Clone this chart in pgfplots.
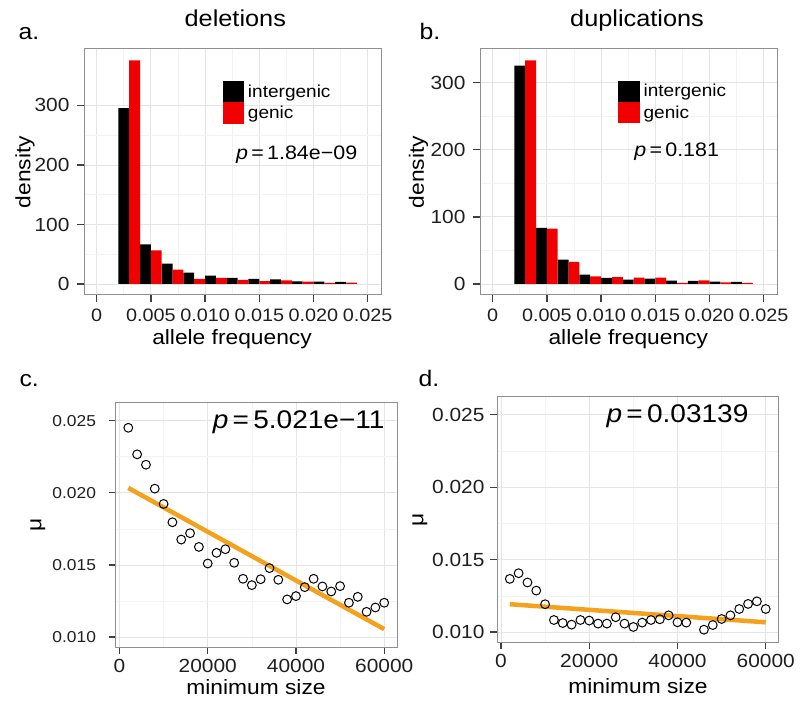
\documentclass[border=0pt]{standalone}
\usepackage{pgfplots}
\pgfplotsset{compat=1.18}
\usepackage{fontspec}
\setmainfont{Liberation Sans}[FakeStretch=1.1]
\definecolor{gridmaj}{HTML}{E4E4E4}
\definecolor{gridmin}{HTML}{F2F2F2}
\definecolor{frame}{HTML}{8F8F8F}
\definecolor{barred}{HTML}{F00000}
\definecolor{fitorange}{HTML}{F4A11E}
\newcommand{\fs}[1]{\fontsize{#1}{#1}\selectfont}
\pgfplotsset{
  gg/.style={
    scale only axis,
    anchor=south west,
    axis line style={frame, line width=1pt},
    tick align=outside,
    tick pos=left,
    major tick style={color=black!75, line width=1.3pt},
    major tick length=7pt,
    minor tick length=0pt,
    minor tick num=1,
    grid=both,
    major grid style={gridmaj, line width=0.8pt},
    minor grid style={gridmin, line width=0.6pt},
    ticklabel style={font=\fs{19}, text=black!88},
    /pgf/number format/assume math mode=true,
    scaled ticks=false,
  },
  hist/.style={
    gg,
    width=297pt, height=246pt,
    xmin=-0.00117, xmax=0.02623,
    xtick={0,0.005,0.01,0.015,0.02,0.025},
    xticklabels={0,0.005,0.010,0.015,0.020,0.025},
    ytick={0,100,200,300},
    xticklabel style={font=\fs{18}, yshift=-3.5pt},
    yticklabel style={xshift=-4pt},
    legend cell align=left,
    legend style={anchor=north west, draw=none, fill=none, inner sep=0pt, outer sep=0pt,
      row sep=0pt, nodes={inner sep=0pt, font=\fs{17.3}},
      /tikz/every odd column/.append style={column sep=4pt}},
  },
  scat/.style={
    gg,
    width=281.5pt,
    xmin=-900, xmax=62900,
    ymin=0.00929, ymax=0.02625,
    xtick={0,20000,40000,60000},
    xticklabels={0,20000,40000,60000},
    ytick={0.010,0.015,0.020,0.025},
    yticklabels={0.010,0.015,0.020,0.025},
    xticklabel style={yshift=-1.5pt},
  },
  blackbar/.style={ybar, bar width=0.001, bar shift=0pt, fill=black, draw=none,
    legend image code/.code={\fill[black] (0pt,-10.65pt) rectangle (21.3pt,10.65pt);}},
  redbar/.style={ybar, bar width=0.001, bar shift=0pt, fill=barred, draw=none,
    legend image code/.code={\fill[barred] (0pt,-10.65pt) rectangle (21.3pt,10.65pt);}},
  pts/.style={only marks, mark=o, mark size=4.4pt, mark options={line width=1pt, draw=black}},
  fit/.style={fitorange, line width=4.5pt, no marks},
}
\begin{document}
\begin{tikzpicture}
\useasboundingbox (0pt,0pt) rectangle (800pt,712pt);

% ---------- panel a ----------
\begin{axis}[hist, at={(84pt,417pt)}, ymin=-18.5, ymax=394.8,
  legend style={at={(0.467,0.870)}}]
\addplot[blackbar] coordinates {
 (0.0025,295.6) (0.0045,66.7) (0.0065,34.2) (0.0085,19.1) (0.0105,14.0) (0.0125,10.1)
 (0.0145,8.4) (0.0165,7.9) (0.0185,4.5) (0.0205,3.9) (0.0225,3.4)};
\addlegendentry{intergenic}
\addplot[redbar] coordinates {
 (0.0035,375.8) (0.0055,56.6) (0.0075,24.1) (0.0095,8.4) (0.0115,10.1) (0.0135,6.7)
 (0.0155,5.0) (0.0175,6.2) (0.0195,3.9) (0.0215,1.7) (0.0235,2.2)};
\addlegendentry{genic}
\end{axis}

% ---------- panel b ----------
\begin{axis}[hist, at={(480pt,417pt)}, ymin=-16.4, ymax=350.2,
  legend style={at={(0.4657,0.871)}}]
\addplot[blackbar] coordinates {
 (0.0025,325.4) (0.0045,83.6) (0.0065,36.3) (0.0085,13.9) (0.0105,9.0) (0.0125,6.5)
 (0.0145,8.0) (0.0165,5.0) (0.0185,4.5) (0.0205,3.5) (0.0225,3.0)};
\addlegendentry{intergenic}
\addplot[redbar] coordinates {
 (0.0035,333.3) (0.0055,82.6) (0.0075,32.8) (0.0095,11.4) (0.0115,10.4) (0.0135,9.5)
 (0.0155,9.5) (0.0175,1.5) (0.0195,5.5) (0.0215,2.5) (0.0235,1.5)};
\addlegendentry{genic}
\end{axis}

% ---------- panel c ----------
\begin{axis}[scat, at={(115.5pt,64.7pt)}, height=244.6pt,
  yticklabel style={font=\fs{15.8}, xshift=-9pt}]
\addplot[pts] coordinates {
 (2000,0.02451) (4000,0.02267) (6000,0.02195) (8000,0.02029) (10000,0.01923)
 (12000,0.01796) (14000,0.01676) (16000,0.01720) (18000,0.01625) (20000,0.01510)
 (22000,0.01584) (24000,0.01609) (26000,0.01515) (28000,0.01404) (30000,0.01360)
 (32000,0.01401) (34000,0.01478) (36000,0.01397) (38000,0.01261) (40000,0.01284)
 (42000,0.01346) (44000,0.01404) (46000,0.01351) (48000,0.01316) (50000,0.01353)
 (52000,0.01238) (54000,0.01279) (56000,0.01175) (58000,0.01205) (60000,0.01238)};
\addplot[fit] coordinates {(2000,0.02034) (60000,0.01055)};
\end{axis}

% ---------- panel d ----------
\begin{axis}[scat, at={(497pt,69.7pt)}, height=245.6pt,
  yticklabel style={xshift=-2pt}]
\addplot[pts] coordinates {
 (2000,0.01367) (4000,0.01406) (6000,0.01342) (8000,0.01286) (10000,0.01192)
 (12000,0.01083) (14000,0.01062) (16000,0.01051) (18000,0.01083) (20000,0.01079)
 (22000,0.01058) (24000,0.01058) (26000,0.01102) (28000,0.01058) (30000,0.01035)
 (32000,0.01065) (34000,0.01083) (36000,0.01088) (38000,0.01115) (40000,0.01067)
 (42000,0.01065) (46000,0.01016) (48000,0.01048) (50000,0.01090) (52000,0.01115)
 (54000,0.01159) (56000,0.01194) (58000,0.01212) (60000,0.01159)};
\addplot[fit] coordinates {(2000,0.01192) (60000,0.01067)};
\end{axis}

% ---------- texts ----------
\node[anchor=base, font=\fs{23}] at (235.3pt,685.3pt) {deletions};
\node[anchor=base, font=\fs{23}] at (637pt,685.3pt) {duplications};
\node[anchor=base west, font=\fs{22.5}] at (15pt,672pt) {a.};
\node[anchor=base west, font=\fs{22.5}] at (416pt,672pt) {b.};
\node[anchor=base west, font=\fs{22.5}] at (16pt,325.3pt) {c.};
\node[anchor=base west, font=\fs{22.5}] at (415pt,325.3pt) {d.};

\node[anchor=base, font=\fs{20.7}] at (232pt,367pt) {allele frequency};
\node[anchor=base, font=\fs{20.7}] at (628.3pt,367pt) {allele frequency};
\node[anchor=base, font=\fs{20.7}] at (256pt,17.5pt) {minimum size};
\node[anchor=base, font=\fs{20.7}] at (638pt,18.5pt) {minimum size};

\node[rotate=90, font=\fs{20.7}] at (25pt,540pt) {density};
\node[rotate=90, font=\fs{20.7}] at (418.5pt,540pt) {density};
\node[rotate=90, font=\fs{20.7}] at (38pt,187pt) {μ};
\node[rotate=90, font=\fs{20.7}] at (420pt,192.5pt) {μ};

\node[anchor=base, font=\fs{19.5}] at (296.7pt,552.7pt) {\textit{p}\,=\,1.84e−09};
\node[anchor=base, font=\fs{19.5}] at (676.7pt,555.3pt) {\textit{p}\,=\,0.181};
\node[anchor=base, font=\fs{25.5}] at (298.7pt,283.7pt) {\textit{p}\,=\,5.021e−11};
\node[anchor=base, font=\fs{25.5}] at (677.5pt,289.3pt) {\textit{p}\,=\,0.03139};
\end{tikzpicture}
\end{document}
